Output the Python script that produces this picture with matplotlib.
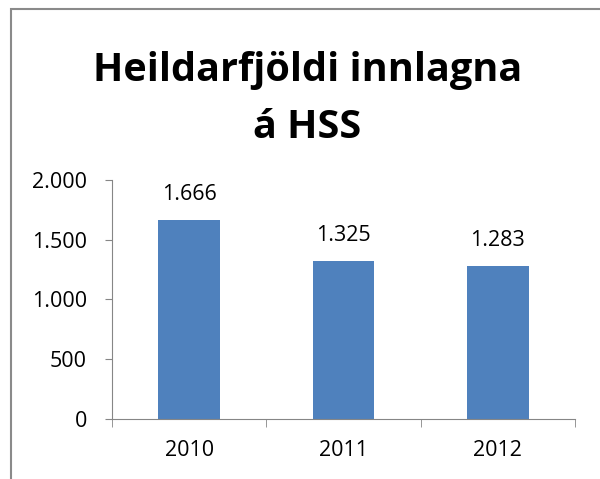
import matplotlib.pyplot as plt
from matplotlib.patches import Rectangle
from matplotlib.ticker import FuncFormatter

years = ['2010', '2011', '2012']
admissions = [1666, 1325, 1283]

plt.rcParams['font.family'] = ['Open Sans', 'DejaVu Sans']

fig = plt.figure(figsize=(6, 4.79), dpi=100)
ax = fig.add_axes([0.1867, 0.1253, 0.7716, 0.4989])

x = list(range(len(years)))
bars = ax.bar(x, admissions, width=0.4, color='#4F81BD')

for xi, v in zip(x, admissions):
    ax.text(xi, v + 210, f'{v:,}'.replace(',', '.'), ha='center', va='center', fontsize=15.5)

ax.set_xlim(-0.5, 2.5)
ax.set_ylim(0, 2000)
ax.set_yticks([0, 500, 1000, 1500, 2000])
ax.yaxis.set_major_formatter(FuncFormatter(lambda v, p: f'{int(v):,}'.replace(',', '.')))
ax.set_xticks(x)
ax.set_xticklabels(years)
ax.set_xticks([-0.5, 0.5, 1.5, 2.5], minor=True)

for s in ['top', 'right']:
    ax.spines[s].set_visible(False)
for s in ['left', 'bottom']:
    ax.spines[s].set_color('#868686')
ax.tick_params(axis='y', colors='#868686', labelcolor='black', labelsize=15.5, length=5, pad=13)
ax.tick_params(axis='x', which='major', length=0, labelsize=15.5, pad=15)
ax.tick_params(axis='x', which='minor', colors='#868686', length=6)

fig.text(0.512, 0.793, 'Heildarfjöldi innlagna\ná HSS', ha='center', va='center',
         fontsize=28.5, fontweight='bold', linespacing=1.6)

fig.patches.append(Rectangle((0.0175, -0.1), 1.2, 1.0815, transform=fig.transFigure,
                             fill=False, edgecolor='#8a8a8a', linewidth=1.5))

fig.savefig('out.png', dpi=100)
